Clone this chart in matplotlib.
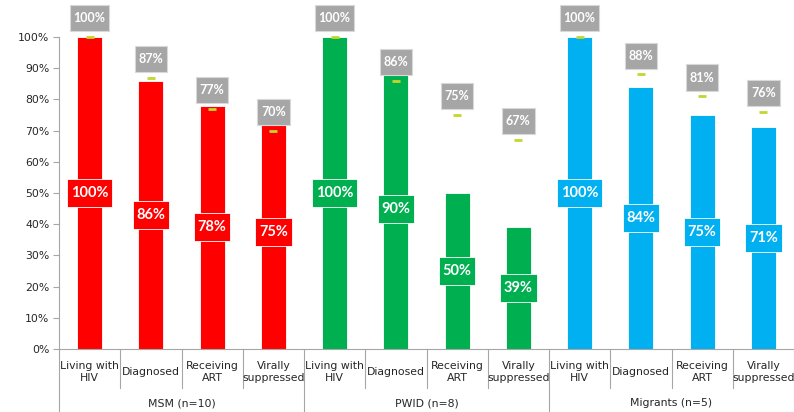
import matplotlib
matplotlib.use("Agg")
import matplotlib.pyplot as plt
from matplotlib.lines import Line2D

# data
groups = ["MSM (n=10)", "PWID (n=8)", "Migrants (n=5)"]
stages = ["Living with\nHIV", "Diagnosed", "Receiving\nART", "Virally\nsuppressed"]
group_colors = ["#FF0000", "#00B050", "#00B0F0"]
observed = [
    [100, 86, 78, 75],
    [100, 90, 50, 39],
    [100, 84, 75, 71],
]
targets = [
    [100, 87, 77, 70],
    [100, 86, 75, 67],
    [100, 88, 81, 76],
]

W, H = 794, 412
fig = plt.figure(figsize=(W / 100, H / 100), dpi=100)
ax_left, ax_bottom_px, ax_top_px = 59, 349, 37
ax = fig.add_axes([ax_left / W, 1 - ax_bottom_px / H, 1 - ax_left / W,
                   (ax_bottom_px - ax_top_px) / H])
ax_h_px = ax_bottom_px - ax_top_px

def px2ax(p):
    # pixel offset below x axis -> axes fraction
    return -p / ax_h_px

n_stage = len(stages)
bar_w = 25 / 61.3
tick_mark_w = 8 / 61.3
line_c = "#A6A6A6"

for g, grp in enumerate(groups):
    xs = [g * n_stage + i + 0.5 for i in range(n_stage)]
    col = group_colors[g]
    ax.bar(xs, observed[g], width=bar_w, color=col, edgecolor="#FFFFFF",
           linewidth=0.6, zorder=2)
    for i, (x, v, t) in enumerate(zip(xs, observed[g], targets[g])):
        ax.hlines(t, x - tick_mark_w / 2, x + tick_mark_w / 2, color="#C4D62C",
                  lw=2, zorder=3, clip_on=False)
        ax.annotate(f"{t}%", (x, t), xytext=(0, 13.5), textcoords="offset points",
                    ha="center", va="center", fontsize=9, fontweight="bold",
                    family="Lato", color="white", zorder=5, annotation_clip=False,
                    bbox=dict(boxstyle="square,pad=0.3", fc="#A6A6A6",
                              ec="#D9D9D9", lw=0.8, mutation_aspect=1.9))
        ax.text(x, v / 2, f"{v}%", ha="center", va="center", fontsize=10.5,
                fontweight="bold", family="Lato", color="white", zorder=5,
                bbox=dict(boxstyle="square,pad=0.26", fc=col, ec="#FFFFFF",
                          lw=0.6, mutation_aspect=1.85))
        ax.text(x, px2ax(23), stages[i], transform=ax.get_xaxis_transform(),
                ha="center", va="center", fontsize=7.8, color="#262626",
                linespacing=1.25)
    ax.text(g * n_stage + n_stage / 2, px2ax(54), grp,
            transform=ax.get_xaxis_transform(), ha="center", va="center",
            fontsize=7.8, color="#262626")

# separators below the axis
trans = ax.get_xaxis_transform()
for k in range(len(groups) * n_stage + 1):
    low = px2ax(H - ax_bottom_px) if k % n_stage == 0 else px2ax(39)
    ax.add_line(Line2D([k, k], [0, low], transform=trans, color=line_c,
                       lw=0.8, clip_on=False))

ax.set_xlim(0, len(groups) * n_stage)
ax.set_ylim(0, 100)
ax.set_xticks([])
ax.set_yticks(range(0, 101, 10))
ax.set_yticklabels([f"{v}%" for v in range(0, 101, 10)], fontsize=7.8,
                   color="#262626")
ax.tick_params(axis="y", length=4, color=line_c, width=0.8, pad=3)
for s in ["top", "right"]:
    ax.spines[s].set_visible(False)
ax.spines["left"].set_color(line_c)
ax.spines["bottom"].set_color(line_c)
ax.spines["left"].set_linewidth(0.8)
ax.spines["bottom"].set_linewidth(0.8)

fig.savefig("out.png", dpi=100)
plt.close(fig)
